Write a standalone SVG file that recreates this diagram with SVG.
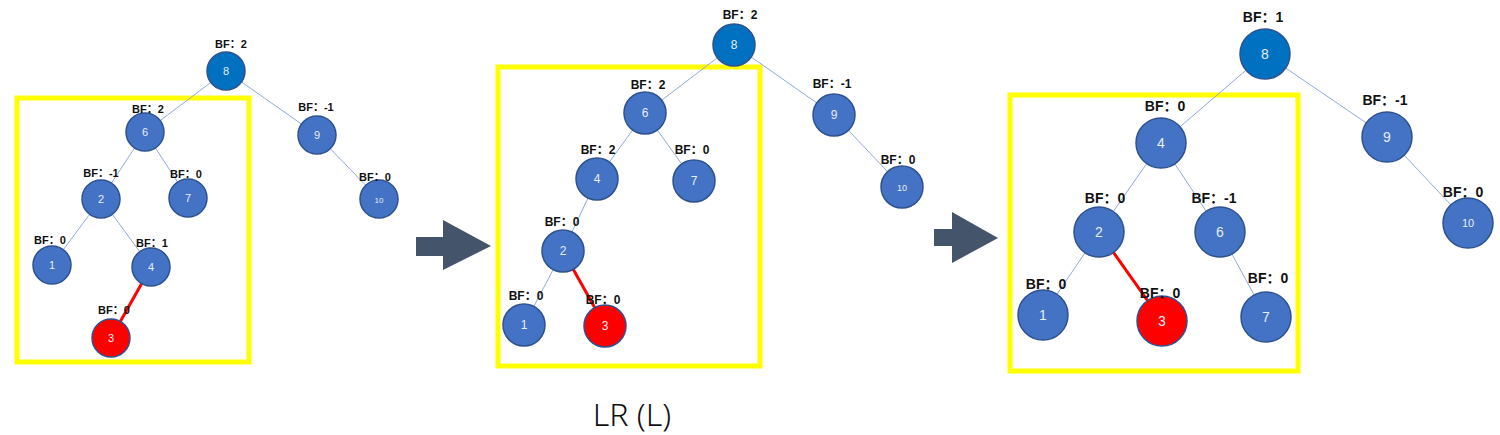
<svg xmlns="http://www.w3.org/2000/svg" width="1500" height="435" viewBox="0 0 1500 435">
<style>
.n{fill:#4472C4;stroke:#2F528F;stroke-width:1.5}
.r{fill:#FF0000;stroke:#2F528F;stroke-width:1.5}
.t{fill:#0070C0;stroke:#2F528F;stroke-width:1.5}
.v{fill:#E8EEF8;font-family:"Liberation Sans",sans-serif;text-anchor:middle;dominant-baseline:central}
.b{fill:#111;font-family:"Liberation Sans","Noto Sans CJK SC",sans-serif;font-weight:bold;text-anchor:middle}
.e{stroke:#8FAADC;stroke-width:1}
.re{stroke:#FF0000;stroke-width:3}
.box{fill:none;stroke:#FFFF00;stroke-width:5}
.ar{fill:#44546A}
</style>
<rect width="1500" height="435" fill="#fff"/>
<rect class="box" x="17" y="98" width="232" height="264"/>
<rect class="box" x="498" y="67" width="262" height="299"/>
<rect class="box" x="1010" y="95" width="288" height="276"/>
<g id="connectors">
<line class="e" x1="226" y1="71" x2="145" y2="132"/><line class="e" x1="226" y1="71" x2="317" y2="135"/>
<line class="e" x1="145" y1="132" x2="101" y2="199"/><line class="e" x1="145" y1="132" x2="188" y2="198"/>
<line class="e" x1="317" y1="135" x2="379" y2="199"/><line class="e" x1="101" y1="199" x2="52" y2="265"/>
<line class="e" x1="101" y1="199" x2="151" y2="267"/><line class="re" x1="151" y1="267" x2="111" y2="338"/>
<line class="e" x1="734" y1="45" x2="645" y2="113"/><line class="e" x1="734" y1="45" x2="834" y2="115"/>
<line class="e" x1="645" y1="113" x2="597" y2="179"/><line class="e" x1="645" y1="113" x2="694" y2="181"/>
<line class="e" x1="834" y1="115" x2="902" y2="187"/><line class="e" x1="597" y1="179" x2="563" y2="251"/>
<line class="e" x1="563" y1="251" x2="524" y2="325"/><line class="re" x1="563" y1="251" x2="605" y2="326"/>
<line class="e" x1="1265" y1="54" x2="1161" y2="143"/><line class="e" x1="1265" y1="54" x2="1387" y2="137"/>
<line class="e" x1="1161" y1="143" x2="1099" y2="232"/><line class="e" x1="1161" y1="143" x2="1220" y2="232"/>
<line class="e" x1="1387" y1="137" x2="1468" y2="223"/><line class="e" x1="1099" y1="232" x2="1043" y2="315"/>
<line class="re" x1="1099" y1="232" x2="1162" y2="321"/><line class="e" x1="1220" y1="232" x2="1266" y2="317"/>
</g>
<g id="t1" font-size="11">
<g id="a8"><circle class="t" cx="226" cy="71" r="19"/><text class="v" x="226" y="71">8</text><text class="b" x="231" y="48">BF：2</text></g>
<g id="a6"><circle class="n" cx="145" cy="132" r="19"/><text class="v" x="145" y="132">6</text><text class="b" x="148" y="113">BF：2</text></g>
<g id="a9"><circle class="n" cx="317" cy="135" r="19"/><text class="v" x="317" y="135">9</text><text class="b" x="316" y="111">BF：-1</text></g>
<g id="a2"><circle class="n" cx="101" cy="199" r="19"/><text class="v" x="101" y="199">2</text><text class="b" x="101" y="177">BF：-1</text></g>
<g id="a7"><circle class="n" cx="188" cy="198" r="19"/><text class="v" x="188" y="198">7</text><text class="b" x="186" y="178">BF：0</text></g>
<g id="a10"><circle class="n" cx="379" cy="199" r="19"/><text class="v" x="379" y="200" font-size="8">10</text><text class="b" x="375" y="181">BF：0</text></g>
<g id="a1"><circle class="n" cx="52" cy="265" r="19"/><text class="v" x="52" y="265">1</text><text class="b" x="50" y="244">BF：0</text></g>
<g id="a4"><circle class="n" cx="151" cy="267" r="19"/><text class="v" x="151" y="267">4</text><text class="b" x="152" y="247">BF：1</text></g>
<g id="a3"><circle class="r" cx="111" cy="338" r="19"/><text class="v" x="111" y="338">3</text><text class="b" x="114" y="314">BF：0</text></g>
</g>
<g id="t2" font-size="12">
<g id="b8"><circle class="t" cx="734" cy="45" r="21"/><text class="v" x="734" y="45">8</text><text class="b" x="740" y="19">BF：2</text></g>
<g id="b6"><circle class="n" cx="645" cy="113" r="21"/><text class="v" x="645" y="113">6</text><text class="b" x="648" y="89">BF：2</text></g>
<g id="b9"><circle class="n" cx="834" cy="115" r="21"/><text class="v" x="834" y="115">9</text><text class="b" x="832" y="88">BF：-1</text></g>
<g id="b4"><circle class="n" cx="597" cy="179" r="21"/><text class="v" x="597" y="179">4</text><text class="b" x="598" y="154">BF：2</text></g>
<g id="b7"><circle class="n" cx="694" cy="181" r="21"/><text class="v" x="694" y="181">7</text><text class="b" x="692" y="154">BF：0</text></g>
<g id="b10"><circle class="n" cx="902" cy="187" r="21"/><text class="v" x="902" y="188" font-size="9">10</text><text class="b" x="898" y="164">BF：0</text></g>
<g id="b2"><circle class="n" cx="563" cy="251" r="21"/><text class="v" x="563" y="251">2</text><text class="b" x="562" y="226">BF：0</text></g>
<g id="b1"><circle class="n" cx="524" cy="325" r="21"/><text class="v" x="524" y="325">1</text><text class="b" x="526" y="300">BF：0</text></g>
<g id="b3"><circle class="r" cx="605" cy="326" r="21"/><text class="v" x="605" y="326">3</text><text class="b" x="603" y="304">BF：0</text></g>
</g>
<g id="t3" font-size="14">
<g id="c8"><circle class="t" cx="1265" cy="54" r="25"/><text class="v" x="1265" y="54">8</text><text class="b" x="1263" y="22">BF：1</text></g>
<g id="c4"><circle class="n" cx="1161" cy="143" r="25"/><text class="v" x="1161" y="143">4</text><text class="b" x="1165" y="111">BF：0</text></g>
<g id="c9"><circle class="n" cx="1387" cy="137" r="25"/><text class="v" x="1387" y="137">9</text><text class="b" x="1385" y="105">BF：-1</text></g>
<g id="c2"><circle class="n" cx="1099" cy="232" r="25"/><text class="v" x="1099" y="232">2</text><text class="b" x="1105" y="203">BF：0</text></g>
<g id="c6"><circle class="n" cx="1220" cy="232" r="25"/><text class="v" x="1220" y="232">6</text><text class="b" x="1214" y="203">BF：-1</text></g>
<g id="c10"><circle class="n" cx="1468" cy="223" r="25"/><text class="v" x="1468" y="223" font-size="11">10</text><text class="b" x="1463" y="197">BF：0</text></g>
<g id="c1"><circle class="n" cx="1043" cy="315" r="25"/><text class="v" x="1043" y="315">1</text><text class="b" x="1046" y="289">BF：0</text></g>
<g id="c3"><circle class="r" cx="1162" cy="321" r="25"/><text class="v" x="1162" y="321">3</text><text class="b" x="1160" y="298">BF：0</text></g>
<g id="c7"><circle class="n" cx="1266" cy="317" r="25"/><text class="v" x="1266" y="317">7</text><text class="b" x="1268" y="283">BF：0</text></g>
</g>
<path class="ar" d="M416 237H443V220L491 246L443 270V256H416Z"/>
<path class="ar" d="M934 229H952V212L998 238L952 263V246H934Z"/>
<text x="632" y="426" font-family="'Noto Sans','Liberation Sans',sans-serif" font-weight="300" font-size="32" text-anchor="middle" fill="#111">LR (L)</text>
</svg>
